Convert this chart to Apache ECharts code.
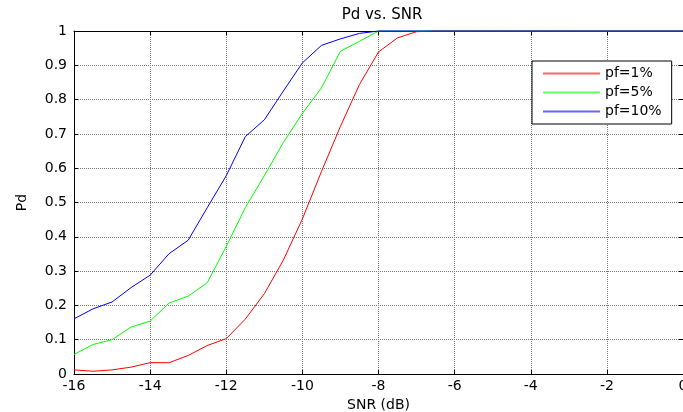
<!DOCTYPE html>
<html>
<head>
<meta charset="utf-8">
<script src="https://cdn.jsdelivr.net/npm/echarts@6/dist/echarts.min.js"></script>
<style>html,body{margin:0;padding:0;background:#fff}#c{width:683px;height:412px}</style>
</head>
<body>
<div id="c"></div>
<script>
var snr = [-16,-15.5,-15,-14.5,-14,-13.5,-13,-12.5,-12,-11.5,-11,-10.5,-10,-9.5,-9,-8.5,-8,-7.5,-7,-6.5,-6,-5.5,-5,-4.5,-4,-3.5,-3,-2.5,-2,-1.5,-1,-0.5,0];
var pf1 = [0.012,0.008,0.012,0.02,0.033,0.033,0.054,0.083,0.103,0.16,0.234,0.332,0.452,0.59,0.722,0.844,0.939,0.98,0.998,1,1,1,1,1,1,1,1,1,1,1,1,1,1];
var pf5 = [0.057,0.086,0.10,0.137,0.154,0.207,0.227,0.266,0.372,0.485,0.578,0.675,0.76,0.834,0.941,0.97,1,1,1,1,1,1,1,1,1,1,1,1,1,1,1,1,1];
var pf10 = [0.161,0.19,0.21,0.252,0.288,0.351,0.39,0.485,0.578,0.692,0.741,0.825,0.907,0.958,0.977,0.993,1,1,1,1,1,1,1,1,1,1,1,1,1,1,1,1,1];
var seriesNames = ['pf=1%','pf=5%','pf=10%'];
var seriesColors = ['#ff0000','#00ff00','#0000ff'];
var legendColors = ['#ff6666','#66ff66','#6666ff'];
var xTicks = [-16,-14,-12,-10,-8,-6,-4,-2,0];
var yTicks = [0,0.1,0.2,0.3,0.4,0.5,0.6,0.7,0.8,0.9,1];

var font = 'DejaVu Sans, sans-serif';
function pairs(v){ return snr.map(function(x,i){ return [x, v[i]]; }); }
var allData = [pf1, pf5, pf10];

var chart = echarts.init(document.getElementById('c'), null, {renderer:'canvas'});
var axLine = {show:true, onZero:false, lineStyle:{color:'#000', width:1}};
var grid = {type:'dotted', color:'#777777', width:1};
chart.setOption({
  animation:false,
  backgroundColor:'#fff',
  title:{text:'Pd vs. SNR', left:377, top:3, textAlign:'center',
    textStyle:{fontFamily:font, fontSize:15, fontWeight:'normal', color:'#000'}},
  grid:{left:74, right:0, top:31, bottom:38, containLabel:false, outerBoundsMode:'none'},
  legend:{orient:'vertical', left:532, top:61, backgroundColor:'#fff',
    borderColor:'#000', borderWidth:1, borderRadius:0, padding:[5,10,5,11], itemGap:4,
    itemWidth:57, itemHeight:2, icon:'rect',
    data:seriesNames.map(function(n,i){ return {name:n, itemStyle:{color:legendColors[i]}}; }),
    textStyle:{fontFamily:font, fontSize:14, color:'#000', lineHeight:15}},
  xAxis:[{type:'value', min:-16, max:0, interval:2, position:'bottom',
    axisLine:axLine, axisTick:{inside:true, length:4, lineStyle:{color:'#000'}},
    axisLabel:{margin:5, color:'#000', fontFamily:font, fontSize:14,
      formatter:function(v){ return xTicks.indexOf(v)>=0 ? String(v) : ''; }},
    splitLine:{show:true, lineStyle:grid},
    name:'SNR (dB)', nameLocation:'middle', nameGap:23,
    nameTextStyle:{fontFamily:font, fontSize:14, color:'#000'}},
   {type:'value', min:-16, max:0, interval:2, position:'top',
    axisLine:axLine, axisTick:{inside:true, length:4, lineStyle:{color:'#000'}},
    axisLabel:{show:false}, splitLine:{show:false}}],
  yAxis:[{type:'value', min:0, max:1, interval:0.1, position:'left',
    axisLine:axLine, axisTick:{inside:true, length:4, lineStyle:{color:'#000'}},
    axisLabel:{margin:7, color:'#000', fontFamily:font, fontSize:14,
      formatter:function(v){ var r=Math.round(v*10)/10; return yTicks.indexOf(r)>=0 ? String(r) : ''; }},
    splitLine:{show:true, lineStyle:grid},
    name:'Pd', nameLocation:'middle', nameGap:45, nameRotate:90,
    nameTextStyle:{fontFamily:font, fontSize:14, color:'#000'}},
   {type:'value', min:0, max:1, interval:0.1, position:'right',
    axisLine:axLine, axisTick:{inside:true, length:4, lineStyle:{color:'#000'}},
    axisLabel:{show:false}, splitLine:{show:false}}],
  series: seriesNames.map(function(n,i){
    return {name:n, type:'line', data:pairs(allData[i]), symbol:'none', showSymbol:false,
      lineStyle:{color:seriesColors[i], width:1}, itemStyle:{color:seriesColors[i]},
      clip:false, z:3+i};
  })
});
</script>
</body>
</html>
